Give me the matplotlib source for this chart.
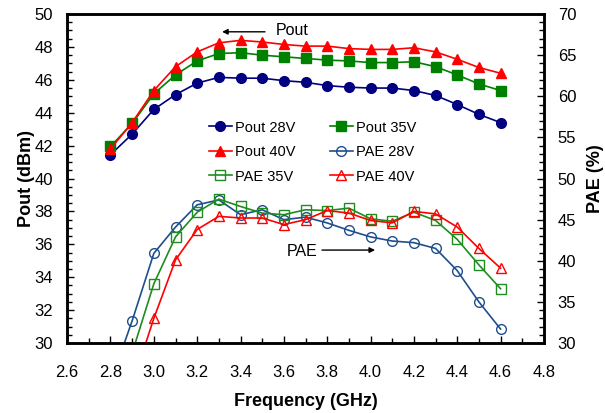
import matplotlib
matplotlib.use('Agg')
import matplotlib.pyplot as plt
from matplotlib.ticker import MultipleLocator

plt.rcParams['font.family'] = ['Liberation Sans', 'DejaVu Sans']

# 측정 주파수 (GHz)
freq = [2.8, 2.9, 3.0, 3.1, 3.2, 3.3, 3.4, 3.5, 3.6, 3.7,
        3.8, 3.9, 4.0, 4.1, 4.2, 4.3, 4.4, 4.5, 4.6]

# 출력 전력 (dBm)
pout_28 = [41.45, 42.7, 44.2, 45.1, 45.8, 46.15, 46.1, 46.1, 45.95, 45.85,
           45.65, 45.55, 45.5, 45.5, 45.35, 45.05, 44.5, 43.9, 43.4]
pout_35 = [41.95, 43.35, 45.15, 46.3, 47.15, 47.6, 47.65, 47.5, 47.4, 47.3,
           47.2, 47.15, 47.05, 47.05, 47.1, 46.8, 46.3, 45.75, 45.35]
pout_40 = [41.8, 43.4, 45.35, 46.8, 47.7, 48.25, 48.4, 48.3, 48.15, 48.05,
           48.05, 47.9, 47.85, 47.85, 47.95, 47.7, 47.25, 46.75, 46.4]

# 전력 부가 효율 PAE (%)
pae_28 = [25.2, 32.7, 40.9, 44.1, 46.8, 47.4, 45.6, 46.2, 45.0, 45.3,
          44.6, 43.7, 42.9, 42.4, 42.2, 41.5, 38.8, 35.0, 31.7]
pae_35 = [20.0, 28.8, 37.2, 42.9, 45.9, 47.5, 46.6, 45.8, 45.6, 46.2,
          46.1, 46.4, 45.1, 44.8, 45.9, 44.9, 42.6, 39.5, 36.6]
pae_40 = [17.0, 24.9, 33.0, 40.1, 43.8, 45.4, 45.2, 45.2, 44.4, 45.0,
          46.1, 45.8, 44.9, 44.6, 46.0, 45.7, 44.1, 41.5, 39.1]

fig = plt.figure(figsize=(6.05, 4.13), dpi=100)
ax = fig.add_axes([0.111, 0.1695, 0.788, 0.7965])
ax2 = ax.twinx()

lw = 1.2
ax.plot(freq, pout_28, color='#000080', lw=lw, marker='o', ms=7, label='Pout 28V')
ax.plot(freq, pout_35, color='#008000', lw=lw, marker='s', ms=6.5, label='Pout 35V')
ax.plot(freq, pout_40, color='#FF0000', lw=lw, marker='^', ms=7, label='Pout 40V')
ax2.plot(freq, pae_28, color='#1F4E8C', lw=lw, marker='o', ms=7, mfc='none', mew=1, label='PAE 28V')
ax2.plot(freq, pae_35, color='#1E8C1E', lw=lw, marker='s', ms=7, mfc='none', mew=1, label='PAE 35V')
ax2.plot(freq, pae_40, color='#FF0000', lw=lw, marker='^', ms=7.5, mfc='none', mew=1, label='PAE 40V')

ax.set_xlim(2.6, 4.8)
ax.set_ylim(30, 50)
ax2.set_ylim(30, 70)

ax.xaxis.set_major_locator(MultipleLocator(0.2))
ax.xaxis.set_minor_locator(MultipleLocator(0.1))
ax.yaxis.set_major_locator(MultipleLocator(2))
ax.yaxis.set_minor_locator(MultipleLocator(0.5))
ax2.yaxis.set_major_locator(MultipleLocator(5))
ax2.yaxis.set_minor_locator(MultipleLocator(1))
ax.xaxis.set_major_formatter(plt.FormatStrFormatter('%.1f'))

ax.tick_params(axis='x', which='both', direction='in', labelsize=12, pad=16)
ax.tick_params(axis='y', which='both', direction='in', labelsize=12, pad=10)
ax.tick_params(which='major', length=5, width=1)
ax.tick_params(which='minor', length=3.5, width=1)
ax2.tick_params(which='both', direction='in', labelsize=12, pad=10, width=1)
ax2.tick_params(which='major', length=5)
ax2.tick_params(which='minor', length=3.5)

for a in (ax, ax2):
    for s in a.spines.values():
        s.set_linewidth(1.8)

ax.set_xlabel('Frequency (GHz)', fontsize=13, fontweight='bold', labelpad=9)
ax.set_ylabel('Pout (dBm)', fontsize=13, fontweight='bold', labelpad=0)
ax2.set_ylabel('PAE (%)', fontsize=13, fontweight='bold', labelpad=8)

# 화살표 주석
ax.annotate('', xy=(3.315, 48.92), xytext=(3.513, 48.92),
            arrowprops=dict(arrowstyle='-|>', color='black', lw=1, mutation_scale=8,
                            shrinkA=0, shrinkB=0))
ax.text(3.562, 48.98, 'Pout', fontsize=11.5, va='center', ha='left')
ax.annotate('', xy=(4.021, 35.65), xytext=(3.776, 35.65),
            arrowprops=dict(arrowstyle='-|>', color='black', lw=1, mutation_scale=8,
                            shrinkA=0, shrinkB=0))
ax.text(3.756, 35.58, 'PAE', fontsize=11.5, va='center', ha='right')

h1, l1 = ax.get_legend_handles_labels()
h2, l2 = ax2.get_legend_handles_labels()
handles = h1 + h2
labels = l1 + l2
# 2열 배치 순서: Pout28, Pout35 / Pout40, PAE28 / PAE35, PAE40
order = [0, 2, 4, 1, 3, 5]
ax2.legend([handles[i] for i in order], [labels[i] for i in order], ncol=2,
           loc='upper left', bbox_to_anchor=(0.3455, 0.708), bbox_transform=fig.transFigure,
           frameon=False, fontsize=10.5, borderpad=0, borderaxespad=0,
           handlelength=1.55, handletextpad=0.2, columnspacing=2.4, labelspacing=0.72)

fig.savefig('out.png', dpi=100)
